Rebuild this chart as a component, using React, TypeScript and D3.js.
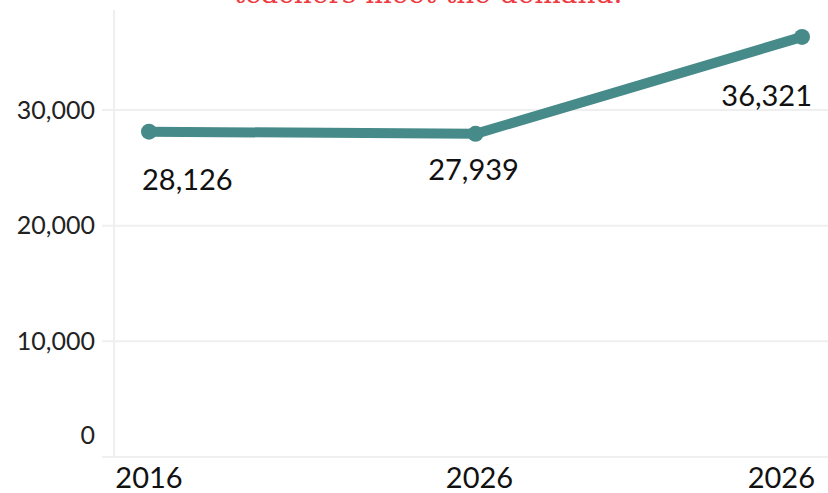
import React from 'react';
import * as d3 from 'd3';

// chart data
const categories = ['2016', '2026', '2026'];
const values = [28126, 27939, 36321];
const yTicks = [0, 10000, 20000, 30000];
const titleText = 'teachers meet the demand.';

const width = 828;
const height = 493;
const teal = '#468a89';
const font = 'Lato, "DejaVu Sans", sans-serif';

export default function App() {
  const y = d3.scaleLinear().domain([0, 30000]).range([457, 110]);
  const x = d3.scalePoint<number>().domain(d3.range(categories.length)).range([149, 802]);
  const fmt = d3.format(',');

  const line = d3.line<number>()
    .x((d, i) => x(i) as number)
    .y((d) => y(d));

  // value label placement, per point
  const labelAnchor = ['start', 'middle', 'end'];
  const labelDx = [-7, -2, 10];
  const labelDy = [58, 46, 69];

  // x label placement
  const xAnchor = ['middle', 'middle', 'end'];
  const xDx = [0, 4, 13];

  return (
    <svg width={width} height={height} style={{ position: 'absolute', left: 0, top: 0 }}>
      <text x={428} y={3} textAnchor="middle" fill="#ee3a42"
        style={{ font: '28px "DejaVu Serif", serif' }}>{titleText}</text>

      {/* grid */}
      {yTicks.map((t) => (
        <line key={t} x1={102} x2={width} y1={y(t)} y2={y(t)} stroke="#efefef" strokeWidth={2} />
      ))}
      <line x1={114} x2={114} y1={10} y2={y(0)} stroke="#efefef" strokeWidth={2} />

      {/* y labels */}
      {yTicks.map((t) => (
        <text key={t} x={95} y={Math.min(y(t), y(0) - 22)} dy="0.35em" textAnchor="end"
          fill="#222" style={{ font: `25px ${font}` }}>{fmt(t)}</text>
      ))}

      {/* x labels */}
      {categories.map((c, i) => (
        <text key={i} x={(x(i) as number) + xDx[i]} y={488} textAnchor={xAnchor[i]}
          fill="#111" style={{ font: `29px ${font}` }}>{c}</text>
      ))}

      <path d={line(values) || ''} fill="none" stroke={teal} strokeWidth={10} strokeLinejoin="round" />
      {values.map((v, i) => (
        <circle key={i} cx={x(i)} cy={y(v)} r={8} fill={teal} />
      ))}

      {values.map((v, i) => (
        <text key={i} x={(x(i) as number) + labelDx[i]} y={y(v) + labelDy[i]} textAnchor={labelAnchor[i]}
          fill="#111" style={{ font: `29px ${font}` }}>{fmt(v)}</text>
      ))}
    </svg>
  );
}
